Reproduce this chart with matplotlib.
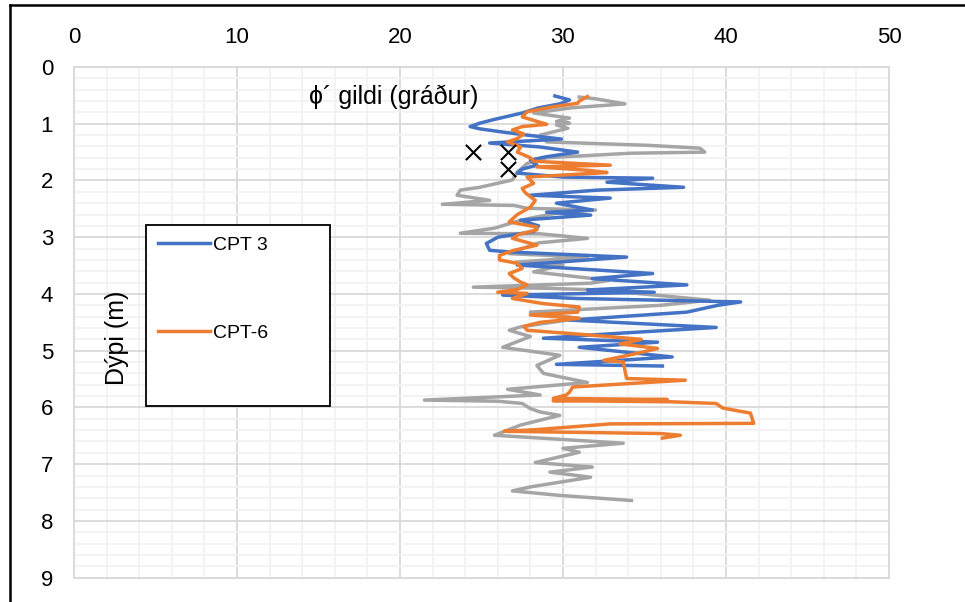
import matplotlib
matplotlib.use("Agg")
import matplotlib.pyplot as plt
from matplotlib.lines import Line2D
from matplotlib.patches import Rectangle
from matplotlib.ticker import MultipleLocator

plt.rcParams['font.family'] = ['Liberation Sans', 'DejaVu Sans']

# CPT 3 - friction angle vs depth
cpt3_depth = [0.51, 0.58, 0.65, 0.72, 0.81, 0.85, 0.93, 0.99, 1.05, 1.09, 1.15, 1.20, 1.27,
              1.34, 1.41, 1.50, 1.58, 1.64, 1.73, 1.80, 1.87, 1.94, 1.96, 2.03, 2.12, 2.17,
              2.26, 2.31, 2.40, 2.52, 2.56, 2.61, 2.70, 2.80, 2.90, 3.00, 3.11, 3.23, 3.26,
              3.35, 3.42, 3.49, 3.64, 3.73, 3.84, 3.93, 3.97, 4.02, 4.08, 4.14, 4.20, 4.32,
              4.46, 4.59, 4.70, 4.78, 4.85, 4.94, 5.11, 5.24, 5.27]
cpt3_phi = [29.5, 30.4, 29.8, 28.5, 27.5, 26.9, 25.7, 24.9, 24.3, 24.9, 26.4, 27.8, 29.9,
            25.5, 28.6, 30.9, 29.0, 28.0, 28.4, 27.5, 27.2, 30.0, 35.5, 32.7, 37.4, 32.1,
            28.0, 32.9, 29.6, 31.8, 29.0, 31.7, 27.4, 28.5, 28.2, 26.0, 25.3, 25.5, 26.7,
            33.9, 30.6, 27.2, 35.5, 31.8, 37.6, 31.5, 35.6, 26.3, 30.9, 40.9, 39.5, 37.6,
            30.4, 39.4, 33.0, 28.8, 35.8, 31.0, 36.7, 29.6, 36.1]

# CPT-6
cpt6_depth = [0.52, 0.60, 0.64, 0.70, 0.79, 0.88, 1.01, 1.05, 1.11, 1.18, 1.26, 1.32, 1.41,
              1.50, 1.60, 1.66, 1.73, 1.76, 1.82, 1.86, 1.94, 2.05, 2.14, 2.22, 2.35, 2.47,
              2.60, 2.73, 2.82, 2.87, 2.95, 3.02, 3.14, 3.23, 3.32, 3.40, 3.46, 3.55, 3.64,
              3.72, 3.79, 3.84, 3.92, 3.97, 3.99, 4.08, 4.17, 4.23, 4.32, 4.37, 4.43, 4.50,
              4.57, 4.64, 4.72, 4.80, 4.88, 4.96, 5.05, 5.17, 5.20, 5.49, 5.52, 5.58, 5.64,
              5.73, 5.78, 5.84, 5.86, 5.88, 5.90, 5.93, 6.01, 6.10, 6.28, 6.29, 6.39, 6.42,
              6.46, 6.49, 6.54]
cpt6_phi = [31.5, 31.0, 30.9, 29.4, 27.8, 27.5, 29.0, 27.5, 26.9, 27.6, 27.2, 26.6, 27.4,
            27.2, 28.0, 28.2, 32.9, 28.4, 31.5, 32.7, 27.8, 28.2, 27.5, 27.7, 28.3, 28.0,
            27.2, 26.7, 28.4, 28.4, 27.3, 26.9, 28.4, 27.0, 26.1, 26.1, 27.2, 27.5, 26.7,
            27.0, 27.4, 27.8, 27.2, 26.0, 27.8, 26.9, 28.8, 31.0, 30.9, 28.0, 31.0, 28.6,
            27.6, 27.8, 31.5, 34.8, 33.5, 35.8, 34.5, 32.5, 33.7, 33.9, 37.5, 34.0, 30.6,
            30.4, 30.2, 29.4, 36.4, 29.4, 36.6, 39.4, 39.8, 41.5, 41.7, 32.9, 28.4, 26.4,
            36.0, 37.2, 36.1]

# third sounding (not in legend)
cpt_x_depth = [0.53, 0.56, 0.65, 0.72, 0.81, 0.90, 0.96, 0.99, 1.02, 1.08, 1.20, 1.32, 1.38,
               1.43, 1.50, 1.52, 1.60, 1.70, 1.85, 1.99, 2.12, 2.17, 2.26, 2.35, 2.42, 2.44,
               2.49, 2.52, 2.58, 2.70, 2.84, 2.93, 2.94, 3.02, 3.10, 3.20, 3.29, 3.35, 3.44,
               3.49, 3.61, 3.76, 3.81, 3.88, 3.90, 3.93, 4.11, 4.20, 4.32, 4.43, 4.58, 4.64,
               4.75, 4.94, 5.08, 5.26, 5.40, 5.56, 5.68, 5.78, 5.87, 5.89, 5.93, 6.02, 6.08,
               6.14, 6.31, 6.49, 6.63, 6.72, 6.79, 6.97, 7.05, 7.14, 7.23, 7.40, 7.47, 7.55,
               7.64]
cpt_x_phi = [31.0, 32.0, 33.8, 30.5, 28.2, 30.4, 29.6, 30.4, 29.6, 30.3, 28.6, 29.0, 35.2,
             38.4, 38.7, 34.1, 29.0, 27.8, 27.2, 26.9, 24.9, 23.7, 23.5, 25.5, 22.6, 27.0,
             27.8, 32.0, 29.5, 27.4, 25.8, 23.7, 28.6, 31.5, 28.5, 27.5, 26.7, 31.5, 27.1,
             30.0, 28.2, 32.8, 31.7, 24.5, 29.0, 32.3, 39.0, 36.0, 28.0, 31.0, 27.4, 26.7,
             28.0, 26.3, 29.8, 28.4, 28.8, 31.5, 26.6, 28.6, 21.5, 26.0, 27.5, 28.0, 28.6,
             29.8, 27.4, 25.8, 33.7, 30.0, 31.0, 28.3, 31.8, 29.2, 31.7, 28.0, 26.9, 29.8,
             34.2]

# lab values
lab_phi = [24.5, 26.6, 26.6]
lab_depth = [1.5, 1.5, 1.8]

fig = plt.figure(figsize=(9.65, 6.02), dpi=100)
ax = fig.add_axes([0.0767, 0.0404, 0.8445, 0.8483])

ax.plot(cpt_x_phi, cpt_x_depth, color='#A5A5A5', lw=2.5, zorder=3)
ax.plot(cpt6_phi, cpt6_depth, color='#ED7D31', lw=2.5, zorder=4)
ax.plot(cpt3_phi, cpt3_depth, color='#4472C4', lw=2.5, zorder=3.5)
ax.scatter(lab_phi, lab_depth, marker='x', s=120, color='black', linewidths=1.5, zorder=5)

ax.set_xlim(0, 50)
ax.set_ylim(9, 0)
ax.xaxis.tick_top()
ax.xaxis.set_major_locator(MultipleLocator(10))
ax.xaxis.set_minor_locator(MultipleLocator(2))
ax.yaxis.set_major_locator(MultipleLocator(1))
ax.yaxis.set_minor_locator(MultipleLocator(0.2))
ax.tick_params(which='both', length=0)
ax.tick_params(axis='x', pad=14, labelsize=16)
ax.tick_params(axis='y', pad=15, labelsize=16)
ax.grid(which='major', color='#D9D9D9', lw=1.3)
ax.grid(which='minor', color='#F2F2F2', lw=1.3)
ax.set_axisbelow(True)
for s in ax.spines.values():
    s.set_color('#D9D9D9')
    s.set_linewidth(1.3)

ax.text(14.4, 0.53, 'ϕ´ gildi (gráður)', fontsize=18, va='center', ha='left')
fig.text(117 / 965, 1 - 338 / 602, 'Dýpi (m)', fontsize=18, rotation=90,
         ha='center', va='center')

# legend box
fig.patches.append(Rectangle((146 / 965, 1 - 406 / 602), 184 / 965, 181 / 602,
                             transform=fig.transFigure, fill=True, facecolor='white',
                             edgecolor='black', lw=1.3, zorder=10))
handles = [Line2D([], [], color='#4472C4', lw=2.5), Line2D([], [], color='#ED7D31', lw=2.5)]
leg = fig.legend(handles, ['CPT 3', 'CPT-6'], loc='upper left',
                 bbox_to_anchor=(140 / 965, 1 - 219 / 602), frameon=False,
                 fontsize=14, handlelength=2.7, labelspacing=3.6, handletextpad=0.15)
leg.set_zorder(11)

# outer chart border
fig.add_artist(Line2D([9.7 / 965, 9.7 / 965], [0, 1 - 5.3 / 602], color='black', lw=1.8,
                      transform=fig.transFigure))
fig.add_artist(Line2D([9.7 / 965, 1], [1 - 5.3 / 602, 1 - 5.3 / 602], color='black', lw=1.8,
                      transform=fig.transFigure))

fig.savefig('out.png', dpi=100)
